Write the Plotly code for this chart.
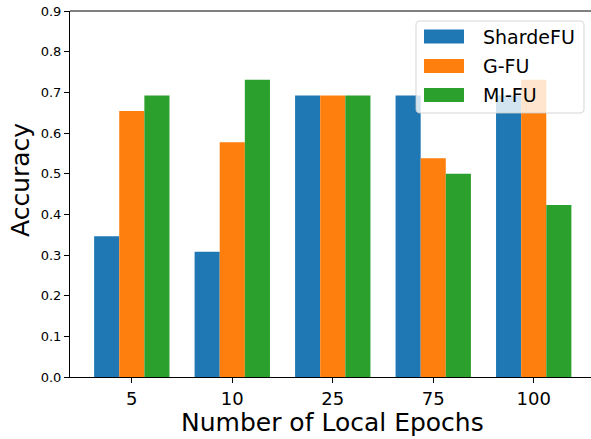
import re
import plotly.graph_objects as go

categories = ["5", "10", "25", "75", "100"]
series_names = ["ShardeFU", "G-FU", "MI-FU"]
shardefu = [0.346, 0.308, 0.692, 0.692, 0.692]
gfu = [0.654, 0.577, 0.692, 0.538, 0.731]
mifu = [0.692, 0.731, 0.692, 0.500, 0.423]
colors = ["#1f77b4", "#ff7f0e", "#2ca02c"]
y_ticks = [0.0, 0.1, 0.2, 0.3, 0.4, 0.5, 0.6, 0.7, 0.8, 0.9]

W, H = 591, 439
ML, MR, MT, MB = 70, 0, 11, 62
PW = W - ML - MR
PH = H - MT - MB


def px_x(p):
    return (p - ML) / PW


def px_y(p):
    return (H - MB - p) / PH


FONT = "DejaVu Sans"

fig = go.Figure()
for name, vals, col in zip(series_names, [shardefu, gfu, mifu], colors):
    fig.add_trace(go.Bar(x=categories, y=vals, name=name, marker=dict(color=col, line=dict(width=0)),
                         showlegend=False))

fig.update_layout(
    width=W, height=H,
    margin=dict(l=ML, r=MR, t=MT, b=MB, pad=0),
    paper_bgcolor="white", plot_bgcolor="white",
    barmode="group", bargap=0.25, bargroupgap=0,
    font=dict(family=FONT, color="black"),
    xaxis=dict(type="category", range=[-0.615, 4.57], showline=True, linecolor="black", linewidth=1,
               ticks="outside", ticklen=5, tickwidth=1, tickcolor="black",
               tickfont=dict(size=18, family=FONT), showgrid=False, zeroline=False),
    yaxis=dict(range=[0, 0.9], tickvals=y_ticks, tickformat=".1f", showline=True, linecolor="black",
               linewidth=1, ticks="outside", ticklen=5, tickwidth=1, tickcolor="black",
               tickfont=dict(size=13, family=FONT), showgrid=False, zeroline=False),
)

# top spine
fig.add_shape(type="line", xref="paper", yref="paper", x0=0, x1=1, y0=1, y1=1,
              line=dict(color="black", width=1))

# axis titles
fig.add_annotation(text="Number of Local Epochs", xref="paper", yref="paper",
                   x=px_x(332.5), y=px_y(422), xanchor="center", yanchor="middle",
                   showarrow=False, font=dict(size=25, family=FONT, color="black"))
fig.add_annotation(text="Accuracy", xref="paper", yref="paper",
                   x=px_x(21), y=px_y(180), xanchor="center", yanchor="middle", textangle=-90,
                   showarrow=False, font=dict(size=25, family=FONT, color="black"))

# legend (drawn manually to match matplotlib style)
lx0, lx1, ly0, ly1, r = 416, 584, 21, 113, 4
path = (f"M {lx0 + r},{ly0} L {lx1 - r},{ly0} Q {lx1},{ly0} {lx1},{ly0 + r} "
        f"L {lx1},{ly1 - r} Q {lx1},{ly1} {lx1 - r},{ly1} L {lx0 + r},{ly1} "
        f"Q {lx0},{ly1} {lx0},{ly1 - r} L {lx0},{ly0 + r} Q {lx0},{ly0} {lx0 + r},{ly0} Z")


def conv(m):
    a, b = float(m.group(1)), float(m.group(2))
    return f"{px_x(a):.5f},{px_y(b):.5f}"


path_paper = re.sub(r"([\d.]+),([\d.]+)", conv, path)
fig.add_shape(type="path", xref="paper", yref="paper", path=path_paper, layer="above",
              fillcolor="rgba(255,255,255,0.8)", line=dict(color="rgba(204,204,204,0.8)", width=1))
row_centers = [36.5, 66, 95]
for name, col, cy in zip(series_names, colors, row_centers):
    fig.add_shape(type="rect", xref="paper", yref="paper", layer="above",
                  x0=px_x(424), x1=px_x(464), y0=px_y(cy - 7), y1=px_y(cy + 7),
                  fillcolor=col, line=dict(width=0))
    fig.add_annotation(text=name, xref="paper", yref="paper", x=px_x(481), y=px_y(cy),
                       xanchor="left", yanchor="middle", showarrow=False,
                       font=dict(size=19, family=FONT, color="black"))

fig.write_html("out.html", config={"displayModeBar": False},
               post_script="document.body.style.margin='0px';"
               "document.body.style.overflow='hidden';")
